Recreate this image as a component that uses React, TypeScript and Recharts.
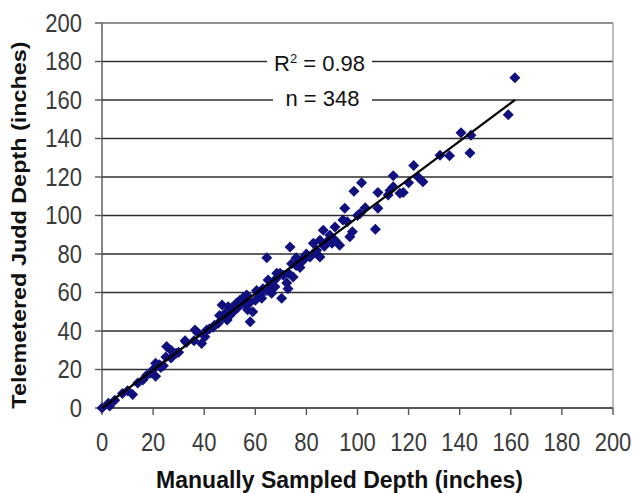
import { ScatterChart, Scatter, XAxis, YAxis, CartesianGrid, ReferenceLine } from 'recharts';

const manualDepth = [
  0, 2.5, 3, 5, 8, 10, 12, 14, 16, 17.5,
  19, 21, 20, 22.5, 21, 24, 23, 25, 25.3, 27,
  27, 29, 30, 32.5, 33, 36, 36.4, 37.6, 39, 40.3,
  41, 42, 43.5, 44, 45.5, 46, 47, 47.5, 48, 49,
  49.4, 50, 50.7, 51.4, 52.7, 53, 54, 55, 56, 56.6,
  57, 58, 58, 59, 60, 60.5, 61, 62, 62.5, 63,
  64.5, 65, 64.5, 66.4, 66, 67.7, 68, 68.4, 69.7, 70.3,
  71, 72.3, 72.8, 73, 73.6, 74.2, 74.8, 76, 76, 77.5,
  78, 78.8, 79.5, 80, 81.4, 82.7, 83.4, 84, 85.3, 85.3,
  86.6, 87, 88, 89.2, 90, 91.2, 91.2, 93, 94.3, 95,
  96, 97, 98, 98.6, 100, 101, 101.6, 103, 107, 108,
  108, 112, 112.7, 114, 114, 116.6, 117.9, 120, 122, 123.7,
  125.6, 132.3, 136, 140.5, 144.4, 144, 159, 161.6,
];

const telemeteredDepth = [
  0, 2.5, 1, 4, 7.5, 9, 7, 13, 14.5, 17,
  18, 16.5, 20, 22.5, 23.3, 22, 21, 26.5, 32, 30,
  26, 28.5, 29, 35, 34, 35, 40.5, 39, 33.5, 37,
  40.5, 41, 42, 43, 44, 48, 53.5, 47, 49, 45.7,
  52.6, 48, 52, 50, 54.5, 52, 56, 57, 53.5, 58.7,
  51, 44.8, 55, 50, 56, 61, 60, 58.7, 57, 62,
  78, 66.5, 61, 59.6, 64, 63, 67, 70, 70, 57,
  69, 65, 62, 70, 83.7, 75, 68, 78, 74, 73,
  77, 76.8, 78, 80, 78.5, 85.6, 81, 82, 78.5, 87.2,
  92.4, 84, 86.3, 89.8, 85.6, 94, 87.2, 84.6, 97.6, 103.8,
  96.7, 89, 91.5, 112.6, 100, 101, 117, 104, 92.9, 103.8,
  112, 110.6, 113, 120.6, 115, 111.5, 112, 117, 126, 120,
  117.5, 131.3, 131, 143, 141.7, 132.5, 152.4, 171.6,
];

// trend line end points
const fitX = [0, 161.6];
const fitY = [0, 160];

const axisTicks = [0, 20, 40, 60, 80, 100, 120, 140, 160, 180, 200];

const FONT = '"Liberation Sans", Arial, sans-serif';

const points = manualDepth.map((x, i) => ({ x, y: telemeteredDepth[i] }));
const fitLine = fitX.map((x, i) => ({ x, y: fitY[i] }));

function Diamond(props: { cx?: number; cy?: number }) {
  const { cx = 0, cy = 0 } = props;
  const r = 5.5;
  return (
    <path
      d={`M${cx},${cy - r}L${cx + r},${cy}L${cx},${cy + r}L${cx - r},${cy}Z`}
      fill="#10107e"
    />
  );
}

function XTick(props: { x?: number; y?: number; payload?: { value: number } }) {
  const { x = 0, y = 0, payload } = props;
  return (
    <g transform={`translate(${x},${y}) scale(1,1.15)`}>
      <text textAnchor="middle" dy="0.71em" fontSize={22} fill="#3a3a3a" fontFamily={FONT}>
        {payload?.value}
      </text>
    </g>
  );
}

function YTick(props: { x?: number; y?: number; payload?: { value: number } }) {
  const { x = 0, y = 0, payload } = props;
  return (
    <g transform={`translate(${x},${y}) scale(1,1.15)`}>
      <text textAnchor="end" dy="0.355em" fontSize={22} fill="#3a3a3a" fontFamily={FONT}>
        {payload?.value}
      </text>
    </g>
  );
}

function XTitle(props: { viewBox?: { x: number; y: number; width: number; height: number } }) {
  const vb = props.viewBox ?? { x: 0, y: 0, width: 0, height: 0 };
  return (
    <text
      x={vb.x + vb.width / 2 - 18}
      y={vb.y + vb.height - 5}
      textAnchor="middle"
      fontSize={23}
      fontWeight="bold"
      fill="#111"
      fontFamily={FONT}
    >
      Manually Sampled Depth (inches)
    </text>
  );
}

function YTitle() {
  return (
    <g transform="translate(26,225) rotate(-90) scale(1.17,1)">
      <text textAnchor="middle" fontSize={20} fontWeight="bold" fill="#111" fontFamily={FONT}>
        Telemetered Judd Depth (inches)
      </text>
    </g>
  );
}

export default function App() {
  return (
    <div style={{ position: 'absolute', left: 0, top: 0, width: 634, height: 493, background: '#fff' }}>
      <ScatterChart width={634} height={493} margin={{ top: 23, right: 21, bottom: 0, left: 0 }}>
        <CartesianGrid vertical={false} stroke="#2e2e2e" strokeWidth={1.5} />
        <XAxis
          type="number"
          dataKey="x"
          domain={[0, 200]}
          ticks={axisTicks}
          height={85}
          tickSize={7}
          tickMargin={18}
          axisLine={{ stroke: '#555', strokeWidth: 1.4 }}
          tickLine={{ stroke: '#555', strokeWidth: 1.4 }}
          tick={<XTick />}
          label={<XTitle />}
        />
        <YAxis
          type="number"
          dataKey="y"
          domain={[0, 200]}
          ticks={axisTicks}
          width={102}
          tickSize={7}
          tickMargin={13}
          axisLine={{ stroke: '#555', strokeWidth: 1.4 }}
          tickLine={{ stroke: '#555', strokeWidth: 1.4 }}
          tick={<YTick />}
          label={<YTitle />}
        />
        <ReferenceLine y={200} stroke="#a0a0a0" strokeWidth={1.4} />
        <ReferenceLine x={200} stroke="#a0a0a0" strokeWidth={1.4} />
        <Scatter data={points} shape={<Diamond />} isAnimationActive={false} />
        <Scatter
          data={fitLine}
          line={{ stroke: '#000', strokeWidth: 2.2 }}
          shape={() => <g />}
          isAnimationActive={false}
        />
      </ScatterChart>
      <div
        style={{
          position: 'absolute',
          left: 267,
          top: 48,
          width: 105,
          height: 32,
          background: '#fff',
          fontFamily: FONT,
          fontSize: 22,
          color: '#111',
          textAlign: 'center',
          lineHeight: '32px',
        }}
      >
        R<sup style={{ fontSize: 13, verticalAlign: 'top', lineHeight: '22px' }}>2</sup> = 0.98
      </div>
      <div
        style={{
          position: 'absolute',
          left: 273,
          top: 84,
          width: 99,
          height: 30,
          background: '#fff',
          fontFamily: FONT,
          fontSize: 22,
          color: '#111',
          textAlign: 'center',
          lineHeight: '30px',
        }}
      >
        n = 348
      </div>
    </div>
  );
}
